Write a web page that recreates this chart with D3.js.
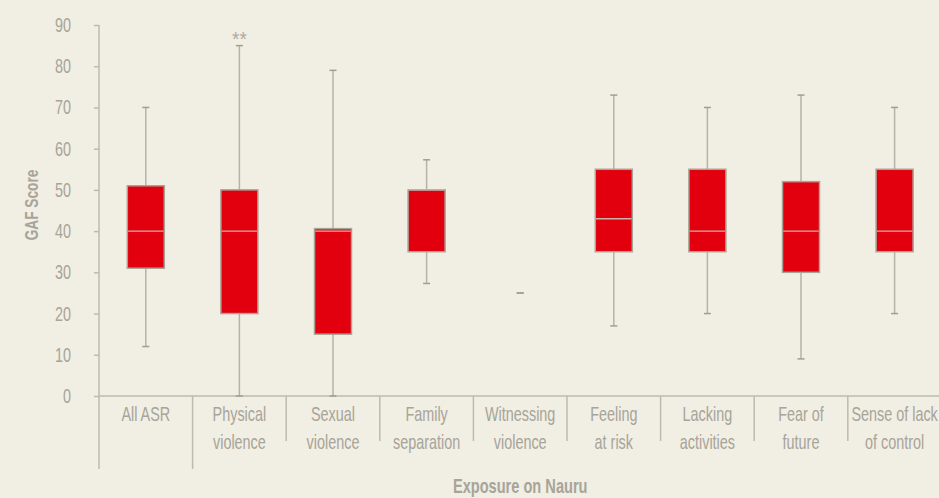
<!DOCTYPE html>
<html>
<head>
<meta charset="utf-8">
<script src="https://cdn.jsdelivr.net/npm/d3@7"></script>
<style>
  html, body { margin: 0; padding: 0; background: #f1eee3; }
  svg { display: block; }
  text { font-family: "Liberation Sans", Arial, sans-serif; }
</style>
</head>
<body>
<svg id="chart" width="939" height="498"></svg>
<script>
// ---- data ----
const categories = [
  ["All ASR"],
  ["Physical", "violence"],
  ["Sexual", "violence"],
  ["Family", "separation"],
  ["Witnessing", "violence"],
  ["Feeling", "at risk"],
  ["Lacking", "activities"],
  ["Fear of", "future"],
  ["Sense of lack", "of control"]
];
const whiskerLow  = [12, 0,  0,  27.3, 25, 17, 20, 9,  20];
const quartile1   = [31, 20, 15, 35,   25, 35, 35, 30, 35];
const medianVals  = [40, 40, 40, 50,   25, 43, 40, 40, 40];
const quartile3   = [51, 50, 40.6, 50, 25, 55, 55, 52, 55];
const whiskerHigh = [70, 85, 79, 57.3, 25, 73, 70, 73, 70];
const yTicks = [0, 10, 20, 30, 40, 50, 60, 70, 80, 90];
const annotations = [{ index: 1, value: 85, label: "**" }];
const xTitle = "Exposure on Nauru";
const yTitle = "GAF Score";

// ---- layout ----
const svg = d3.select("#chart");
const plotLeft = 99, bandW = 93.6, plotTop = 25, plotBottom = 396;
const x = d3.scaleBand().domain(d3.range(categories.length)).range([plotLeft, plotLeft + bandW * categories.length]).padding(0);
const y = d3.scaleLinear().domain([0, 90]).range([plotBottom, plotTop]);

const textCol = "#a7a499";
const axisCol = "#bdbaaf";
const SX = 0.72; // condensed look

function condText(parent, tx, ty, str, size, anchor, weight, sx, rot) {
  const gg = parent.append("g")
    .attr("transform", `translate(${tx},${ty})` + (rot ? ` rotate(${rot})` : "") + ` scale(${sx},1)`);
  return gg.append("text").attr("x", 0).attr("y", 0).attr("text-anchor", anchor)
    .attr("fill", textCol).style("font-size", size + "px").style("font-weight", weight || "normal").text(str);
}

// y axis
const yAxis = svg.append("g").attr("transform", `translate(${plotLeft},0)`)
  .call(d3.axisLeft(y).tickValues(yTicks).tickSize(5).tickFormat(d3.format("d")));
yAxis.select(".domain").attr("stroke", axisCol).attr("stroke-width", 1.5).attr("d", `M0,${plotTop}V${plotBottom}`);
yAxis.selectAll(".tick line").attr("stroke", axisCol).attr("stroke-width", 1.5);
yAxis.selectAll(".tick text").remove();
yTicks.forEach(v => {
  condText(svg, plotLeft - 28, y(v) + 7, String(v), 20, "end", "normal", SX);
});

// x axis line
svg.append("line").attr("x1", plotLeft).attr("x2", 939).attr("y1", plotBottom).attr("y2", plotBottom)
  .attr("stroke", axisCol).attr("stroke-width", 1.5);

// separators
d3.range(categories.length + 1).forEach(i => {
  const xx = plotLeft + bandW * i;
  svg.append("line").attr("x1", xx).attr("x2", xx).attr("y1", plotBottom)
    .attr("y2", i <= 1 ? 469 : 441).attr("stroke", axisCol).attr("stroke-width", 1.5);
});

// category labels
categories.forEach((lines, i) => {
  const cx = x(i) + x.bandwidth() / 2;
  lines.forEach((ln, j) => {
    condText(svg, cx, 421 + j * 27.5, ln, 20, "middle", "normal", SX);
  });
});

// boxes
const boxW = 37, capW = 7;
const whiskCol = "#b5b2a7";
const g = svg.append("g");
categories.forEach((c, i) => {
  const cx = x(i) + x.bandwidth() / 2;
  g.append("line").attr("x1", cx).attr("x2", cx).attr("y1", y(whiskerHigh[i])).attr("y2", y(quartile3[i]))
    .attr("stroke", whiskCol).attr("stroke-width", 1.5);
  g.append("line").attr("x1", cx).attr("x2", cx).attr("y1", y(quartile1[i])).attr("y2", y(whiskerLow[i]))
    .attr("stroke", whiskCol).attr("stroke-width", 1.5);
  [whiskerHigh[i], whiskerLow[i]].forEach(v => {
    g.append("line").attr("x1", cx - capW / 2).attr("x2", cx + capW / 2).attr("y1", y(v)).attr("y2", y(v))
      .attr("stroke", "#a09d92").attr("stroke-width", 1.5);
  });
  if (quartile3[i] > quartile1[i]) {
    g.append("rect").attr("x", cx - boxW / 2).attr("y", y(quartile3[i]))
      .attr("width", boxW).attr("height", y(quartile1[i]) - y(quartile3[i]))
      .attr("fill", "#e2000f").attr("stroke", "#a8a397").attr("stroke-width", 1.5);
    g.append("line").attr("x1", cx - boxW / 2 + 0.75).attr("x2", cx + boxW / 2 - 0.75)
      .attr("y1", y(medianVals[i])).attr("y2", y(medianVals[i]))
      .attr("stroke", "#cdb2aa").attr("stroke-width", 1.3);
  }
});

// annotations
annotations.forEach(a => {
  const cx = x(a.index) + x.bandwidth() / 2;
  condText(svg, cx, y(a.value) + 0.5, a.label, 20, "middle", "normal", 0.95).attr("fill", "#aeaba0");
});

// axis titles
condText(svg, plotLeft + bandW * categories.length / 2, 493, xTitle, 20, "middle", "bold", 0.73);
condText(svg, 37.5, 205, yTitle, 18.5, "middle", "bold", 0.74, -90);
</script>
</body>
</html>
